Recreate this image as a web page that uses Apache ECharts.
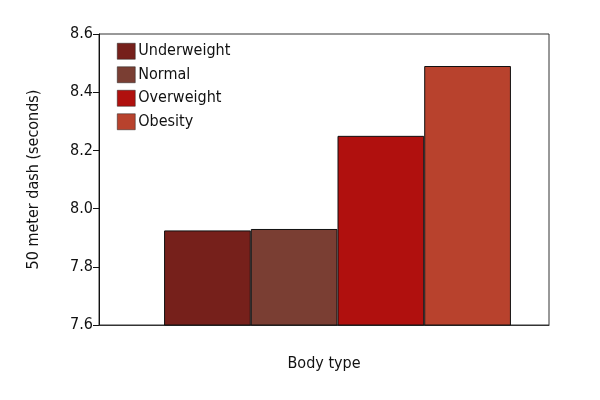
<!DOCTYPE html>
<html><head><meta charset="utf-8">
<script src="https://cdn.jsdelivr.net/npm/echarts@6/dist/echarts.min.js"></script>
<style>html,body{margin:0;padding:0;background:#fff}#c{width:600px;height:400px}</style>
</head><body><div id="c"></div>
<script>
const categories = [''];
const seriesNames = ['Underweight', 'Normal', 'Overweight', 'Obesity'];
const seriesValues = [[7.925], [7.93], [8.25], [8.49]];
const colors = ['#76201b', '#7a3e33', '#b0100e', '#b8422d'];
const yTicks = [7.6, 7.8, 8.0, 8.2, 8.4, 8.6];
const FONT = '"Liberation Sans Narrow", "DejaVu Sans Condensed", sans-serif';

const chart = echarts.init(document.getElementById('c'), null, {renderer: 'canvas'});
chart.setOption({
  animation: false,
  textStyle: {fontFamily: FONT},
  grid: [
    {left: 99, right: 51, top: 34, bottom: 75, show: true, borderColor: '#333', borderWidth: 1, backgroundColor: 'transparent'},
    {left: 126, right: 51, top: 34, bottom: 75}
  ],
  legend: {
    orient: 'vertical', left: 112, top: 38, itemWidth: 18, itemHeight: 16, itemGap: 7,
    icon: 'rect',
    textStyle: {fontFamily: FONT, fontSize: 16, color: '#111', padding: [0,0,0,-2]},
    data: seriesNames.map((n, i) => ({name: n, itemStyle: {color: colors[i], borderColor: '#222', borderWidth: 0.5}}))
  },
  xAxis: [{
    gridIndex: 0, type: 'category', data: categories,
    name: 'Body type', nameLocation: 'middle', nameGap: 31,
    nameTextStyle: {fontFamily: FONT, fontSize: 16, color: '#111'},
    axisLine: {lineStyle: {color: '#333'}}, axisTick: {show: false}, axisLabel: {show: false}
  }, {
    gridIndex: 1, type: 'category', data: categories, show: false
  }],
  yAxis: [{
    gridIndex: 0, type: 'value', min: 7.6, max: 8.6, interval: 0.2,
    name: '50 meter dash (seconds)', nameLocation: 'middle', nameGap: 57, nameRotate: 90,
    nameTextStyle: {fontFamily: FONT, fontSize: 16, color: '#111'},
    axisLine: {show: true, lineStyle: {color: '#111'}},
    axisTick: {show: true, length: 6, lineStyle: {color: '#111'}},
    splitLine: {show: false},
    axisLabel: {fontFamily: FONT, fontSize: 16, color: '#111', margin: 6,
      formatter: v => { const t = yTicks.find(x => Math.abs(x - v) < 1e-6); return t !== undefined ? t.toFixed(1) : ''; }}
  }, {
    gridIndex: 1, type: 'value', min: 7.6, max: 8.6, interval: 0.2, show: false, splitLine: {show: false}
  }],
  series: seriesNames.map((n, i) => ({
    name: n, type: 'bar', data: seriesValues[i], xAxisIndex: 1, yAxisIndex: 1,
    barGap: '0%', barCategoryGap: '18%',
    itemStyle: {color: colors[i], borderColor: '#111', borderWidth: 1}
  }))
});
</script></body></html>
